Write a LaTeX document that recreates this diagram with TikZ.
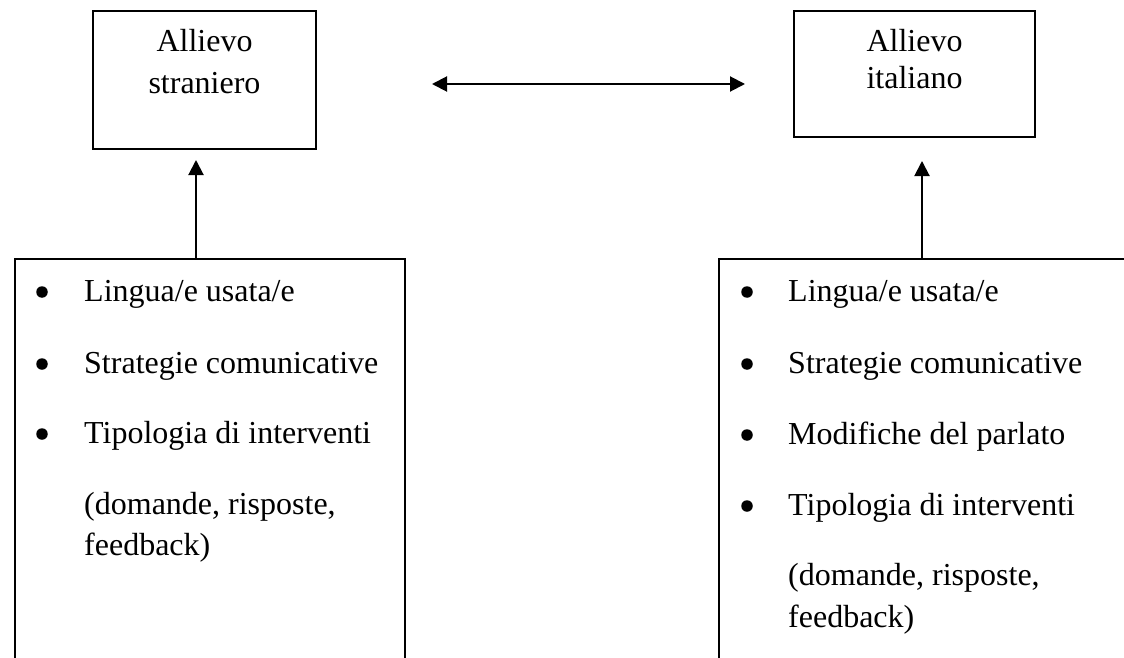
\documentclass[tikz,border=0pt]{standalone}
\usepackage{fontspec}
\setmainfont{Liberation Serif}
\usetikzlibrary{arrows.meta}
\begin{document}
\begin{tikzpicture}[x=1pt,y=-1pt,
  frame/.style={draw,line width=2pt,line join=miter},
  arr/.style={line width=2pt,-{Triangle[length=15pt,width=15pt]}},
  darr/.style={line width=2pt,{Triangle[length=15pt,width=15pt]}-{Triangle[length=15pt,width=15pt]}},
  txt/.style={anchor=base west,inner sep=0pt,font=\fontsize{32}{38}\selectfont},
  ctxt/.style={anchor=base,inner sep=0pt,font=\fontsize{32}{38}\selectfont},
  bul/.style={circle,fill=black,inner sep=0pt,minimum size=11.5pt}]
\useasboundingbox (0,0) rectangle (1124,658);

% upper boxes
\node[frame,minimum width=223pt,minimum height=138pt,inner sep=0pt] (fs) at (204.5,80) {};
\node[frame,minimum width=241pt,minimum height=126pt,inner sep=0pt] (it) at (914.5,74) {};
\node[ctxt] (fs1) at (204.5,52) {Allievo};
\node[ctxt] (fs2) at (204.5,94) {straniero};
\node[ctxt] (it1) at (914.5,52) {Allievo};
\node[ctxt] (it2) at (914.5,89) {italiano};

% lower boxes, open at the bottom
\coordinate (lbTop) at (196,259);
\coordinate (rbTop) at (922,259);
\draw[frame] (15,680) -- (15,259) -- (405,259) -- (405,680);
\draw[frame] (719,680) -- (719,259) -- (1140,259);

% left list
\node[bul] (lb1) at (42,292) {};
\node[txt] (lt1) at (84,301) {Lingua/e usata/e};
\node[bul] (lb2) at (42,364) {};
\node[txt] (lt2) at (84,373) {Strategie comunicative};
\node[bul] (lb3) at (42,434) {};
\node[txt] (lt3) at (84,443) {Tipologia di interventi};
\node[txt] (lt4) at (84,514) {(domande, risposte,};
\node[txt] (lt5) at (84,555) {feedback)};

% right list
\node[bul] (rb1) at (747,292) {};
\node[txt] (rt1) at (788,301) {Lingua/e usata/e};
\node[bul] (rb2) at (747,364) {};
\node[txt] (rt2) at (788,373) {Strategie comunicative};
\node[bul] (rb3) at (747,435) {};
\node[txt] (rt3) at (788,444) {Modifiche del parlato};
\node[bul] (rb4) at (747,506) {};
\node[txt] (rt4) at (788,515) {Tipologia di interventi};
\node[txt] (rt5) at (788,585) {(domande, risposte,};
\node[txt] (rt6) at (788,627) {feedback)};

% connectors
\coordinate (fsTip) at (196,160);
\coordinate (itTip) at (922,161);
\draw[arr] (lbTop) -- (fsTip);
\draw[arr] (rbTop) -- (itTip);
\coordinate (hl) at (432,84);
\coordinate (hr) at (745,84);
\draw[darr] (hl) -- (hr);
\end{tikzpicture}
\end{document}
